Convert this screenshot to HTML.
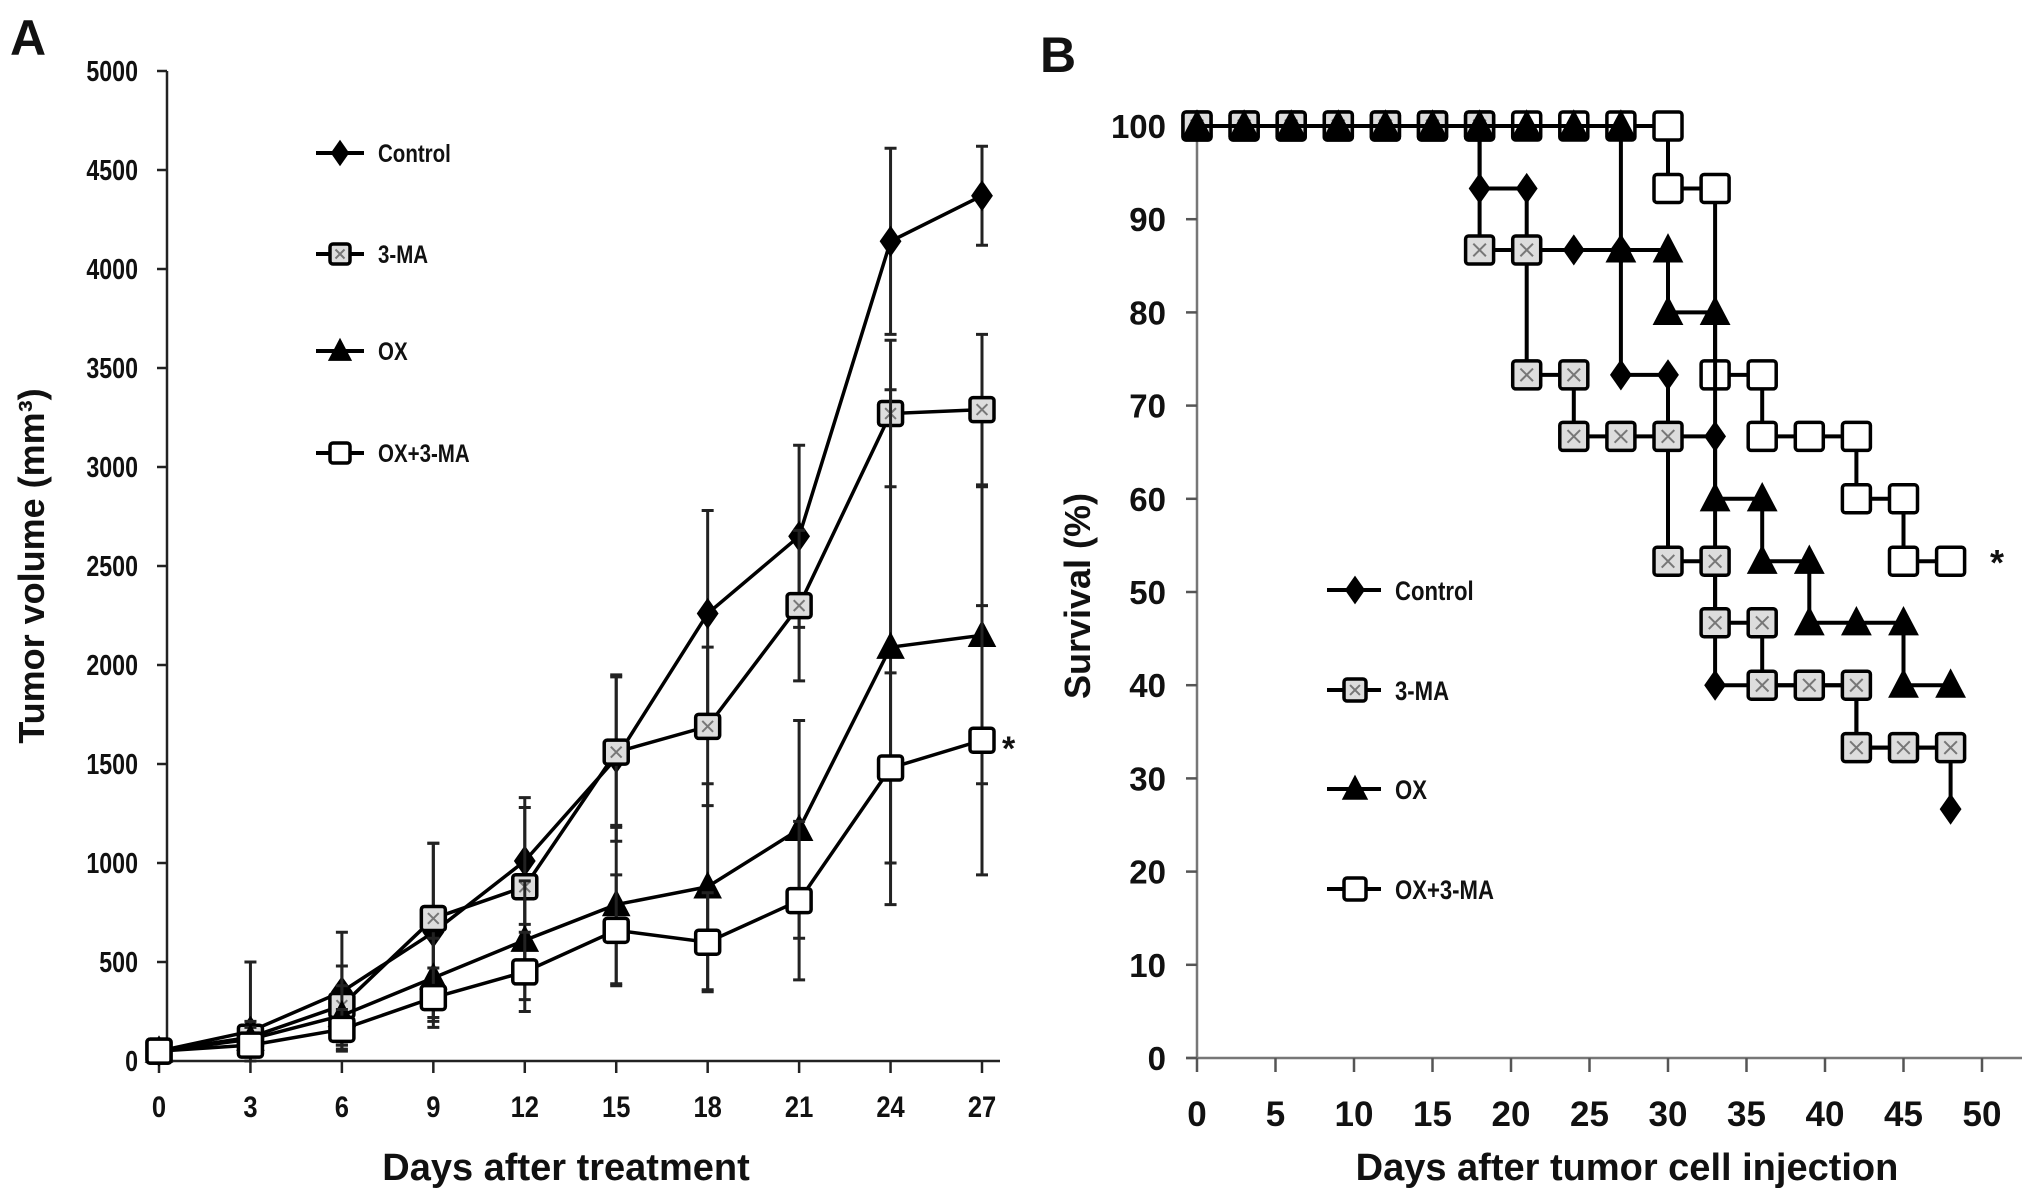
<!DOCTYPE html>
<html><head><meta charset="utf-8"><style>
body{margin:0;background:#fff}
svg text{font-family:"Liberation Sans",sans-serif;font-weight:bold;fill:#111}
</style></head><body>
<svg id="s" width="2031" height="1199" viewBox="0 0 2031 1199" xmlns="http://www.w3.org/2000/svg">
<g id="A"></g>
<g id="B"></g>
</svg>
<script>
const daysA=[0,3,6,9,12,15,18,21,24,27];
const ctrlA=[50,150,350,650,1010,1530,2260,2650,4140,4370];
const ctrlSd=[0,350,300,450,320,420,520,460,470,250];
const maA=[50,120,280,720,880,1560,1690,2300,3270,3290];
const maSd=[0,80,200,380,400,380,400,380,370,380];
const oxA=[50,110,230,420,610,790,880,1170,2090,2150];
const oxSd=[0,60,150,200,300,400,520,550,1300,750];
const oxmaA=[50,80,160,320,450,660,600,810,1480,1620];
const oxmaSd=[0,40,100,150,200,280,250,400,480,680];
const yTicksA=[0,500,1000,1500,2000,2500,3000,3500,4000,4500,5000];
const daysB=[0,3,6,9,12,15,18,21,24,27,30,33,36,39,42,45,48];
const ctrlB=[100,100,100,100,100,100,93.3,86.7,86.7,73.3,66.7,40,40,40,33.3,33.3,26.7];
const maB=[100,100,100,100,100,100,86.7,73.3,66.7,66.7,53.3,46.7,40,40,33.3,33.3,33.3];
const oxB=[100,100,100,100,100,100,100,100,100,86.7,80,60,53.3,46.7,46.7,40,40];
const oxmaB=[100,100,100,100,100,100,100,100,100,100,93.3,73.3,66.7,66.7,60,53.3,53.3];
const xTicksB=[0,5,10,15,20,25,30,35,40,45,50];
const yTicksB=[0,10,20,30,40,50,60,70,80,90,100];
const legendNames=["Control","3-MA","OX","OX+3-MA"];

const NS="http://www.w3.org/2000/svg";
function mk(p,t,a){const e=document.createElementNS(NS,t);for(const k in a)e.setAttribute(k,a[k]);p.appendChild(e);return e;}
function txt(p,x,y,s,o){const e=mk(p,'text',Object.assign({x:x,y:y},o||{}));e.textContent=s;return e;}
function marker(p,type,x,y,sz){
  let g=mk(p,'g',{});
  if(type==='diamond'){mk(g,'path',{d:`M${x} ${y-sz*0.6}L${x+sz*0.42} ${y}L${x} ${y+sz*0.6}L${x-sz*0.42} ${y}Z`,fill:'#000'});}
  else if(type==='tri'){mk(g,'path',{d:`M${x} ${y-sz*0.6}L${x+sz*0.55} ${y+sz*0.45}L${x-sz*0.55} ${y+sz*0.45}Z`,fill:'#000'});}
  else if(type==='xsq'){const h=sz/2;mk(g,'rect',{x:x-h,y:y-h,width:sz,height:sz,rx:3,fill:'#ddd',stroke:'#000','stroke-width':3.5});
    mk(g,'path',{d:`M${x-h*0.45} ${y-h*0.45}L${x+h*0.45} ${y+h*0.45}M${x+h*0.45} ${y-h*0.45}L${x-h*0.45} ${y+h*0.45}`,stroke:'#777','stroke-width':2});}
  else {const h=sz/2;mk(g,'rect',{x:x-h,y:y-h,width:sz,height:sz,rx:3,fill:'#fff',stroke:'#000','stroke-width':3.5});}
  return g;
}
const types=['diamond','xsq','tri','sq'];

// Panel A
const A=document.getElementById('A');
const ax=d=>159+d*(982-159)/27, ay=v=>1061-v*(1061-71)/5000;
let t=txt(A,10,55,'A',{'font-size':50});
let l=mk(A,'path',{d:`M167 71V1061M159 1061H1000`,stroke:'#222','stroke-width':2.5,fill:'none'});

yTicksA.forEach(v=>{mk(A,'line',{x1:157,x2:167,y1:ay(v),y2:ay(v),stroke:'#222','stroke-width':2.5});
  const e=txt(A,138,ay(v)+10,String(v),{'text-anchor':'end','font-size':29,'font-family':'Liberation Serif',transform:`translate(138 0) scale(0.8 1) translate(-138 0)`});
  });
daysA.forEach(d=>{mk(A,'line',{x1:ax(d),x2:ax(d),y1:1061,y2:1073,stroke:'#222','stroke-width':2.5});
  const e=txt(A,ax(d),1117,String(d),{'text-anchor':'middle','font-size':30,'font-family':'Liberation Serif',transform:`translate(${ax(d)} 0) scale(0.85 1) translate(${-ax(d)} 0)`});
  });
t=txt(A,0,0,'Tumor volume (mm³)',{'text-anchor':'middle','font-size':36,transform:'translate(44 566) rotate(-90)'});

t=txt(A,566,1180,'Days after treatment',{'text-anchor':'middle','font-size':38});

const seriesA=[[ctrlA,ctrlSd],[maA,maSd],[oxA,oxSd],[oxmaA,oxmaSd]];
const sizesA=[26,24,26,24];
seriesA.forEach((s,i)=>{
  const g=mk(A,'g',{});
  
  
  s[0].forEach((v,j)=>{if(s[1][j]>0){const x=ax(daysA[j]);
    mk(g,'path',{d:`M${x} ${ay(v+s[1][j])}V${ay(Math.max(0,v-s[1][j]))}M${x-6} ${ay(v+s[1][j])}h12M${x-6} ${ay(Math.max(0,v-s[1][j]))}h12`,stroke:'#222','stroke-width':3});}});
  mk(g,'polyline',{points:s[0].map((v,j)=>ax(daysA[j])+','+ay(v)).join(' '),fill:'none',stroke:'#000','stroke-width':3.5});
  s[0].forEach((v,j)=>{const m=marker(g,types[i],ax(daysA[j]),ay(v),sizesA[i]);
    });
});
t=txt(A,1002,760,'*',{'font-size':34,'font-weight':'normal'});
const legYA=[153,254,351,453];
legendNames.forEach((n,i)=>{const g=mk(A,'g',{});
  
  mk(g,'line',{x1:316,x2:364,y1:legYA[i],y2:legYA[i],stroke:'#000','stroke-width':4});
  marker(g,types[i],340,legYA[i],types[i]==='sq'||types[i]==='xsq'?20:22);
  txt(g,378,legYA[i]+9,n,{'font-size':25,transform:`translate(378 0) scale(0.82 1) translate(-378 0)`});});

// Panel B
const B=document.getElementById('B');
const bx=d=>1197+d*(1982-1197)/50, by=v=>1058-v*(1058-126)/100;
t=txt(B,1040,72,'B',{'font-size':50});
l=mk(B,'path',{d:`M1197 110V1058M1186 1058H2022`,stroke:'#777','stroke-width':2.5,fill:'none'});

yTicksB.forEach(v=>{mk(B,'line',{x1:1186,x2:1197,y1:by(v),y2:by(v),stroke:'#555','stroke-width':2.5});
  const e=txt(B,1166,by(v)+12,String(v),{'text-anchor':'end','font-size':33});
  });
xTicksB.forEach(d=>{mk(B,'line',{x1:bx(d),x2:bx(d),y1:1058,y2:1072,stroke:'#555','stroke-width':2.5});
  const e=txt(B,bx(d),1126,String(d),{'text-anchor':'middle','font-size':35});
  });
t=txt(B,0,0,'Survival (%)',{'text-anchor':'middle','font-size':36,transform:'translate(1090 596) rotate(-90)'});

t=txt(B,1627,1180,'Days after tumor cell injection',{'text-anchor':'middle','font-size':38});

const seriesB=[ctrlB,maB,oxB,oxmaB];
const sizesB=[26,28,28,28];
[3,0,1,2].forEach(i=>{const s=seriesB[i];
  const g=mk(B,'g',{});
  
  
  let d=`M${bx(daysB[0])} ${by(s[0])}`;
  for(let j=1;j<s.length;j++){d+=`H${bx(daysB[j])}V${by(s[j])}`;}
  mk(g,'path',{d:d,fill:'none',stroke:'#000','stroke-width':4});
  for(let j=0;j<s.length;j++){
    if(j>0&&s[j-1]!==s[j]){const m=marker(g,types[i],bx(daysB[j]),by(s[j-1]),sizesB[i]);}
    const m=marker(g,types[i],bx(daysB[j]),by(s[j]),sizesB[i]);
    }
});
t=txt(B,1990,575,'*',{'font-size':36,'font-weight':'normal'});
const legYB=[590,690,789,889];
legendNames.forEach((n,i)=>{const g=mk(B,'g',{});
  
  mk(g,'line',{x1:1327,x2:1381,y1:legYB[i],y2:legYB[i],stroke:'#000','stroke-width':4});
  marker(g,types[i],1355,legYB[i],types[i]==='sq'||types[i]==='xsq'?22:24);
  txt(g,1395,legYB[i]+10,n,{'font-size':27,transform:`translate(1395 0) scale(0.82 1) translate(-1395 0)`});});
</script>
</body></html>
